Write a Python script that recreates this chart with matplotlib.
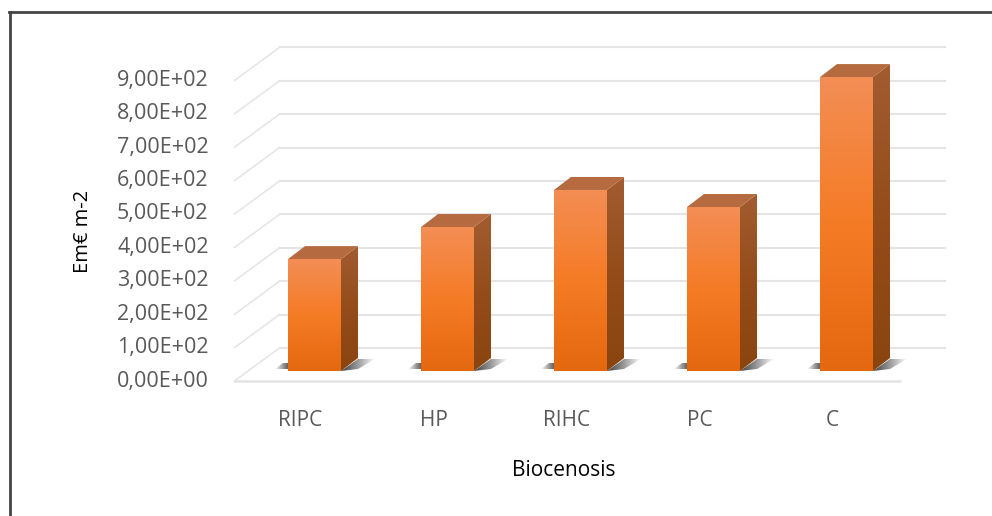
import numpy as np
import matplotlib
matplotlib.use('Agg')
import matplotlib.pyplot as plt
from matplotlib.colors import LinearSegmentedColormap
from matplotlib.patches import Polygon

categories = ['RIPC', 'HP', 'RIHC', 'PC', 'C']
values = [335, 431, 542, 491, 880]
tick_values = [0, 100, 200, 300, 400, 500, 600, 700, 800, 900]
tick_labels = ['0,00E+00', '1,00E+02', '2,00E+02', '3,00E+02', '4,00E+02',
               '5,00E+02', '6,00E+02', '7,00E+02', '8,00E+02', '9,00E+02']

plt.rcParams['font.family'] = ['Open Sans', 'DejaVu Sans']

W, H = 992, 516
# one axes over the whole figure: x in categories, y in value units, on the plane of the bar fronts
PX_CAT = 133.0
PX_VAL = 0.334
X0 = 314.5
Y0 = 371.0

fig = plt.figure(figsize=(W / 100, H / 100), dpi=100)
ax = fig.add_axes([0, 0, 1, 1])
ax.axis('off')
xlim = ((0 - X0) / PX_CAT, (W - X0) / PX_CAT)
ylim = ((Y0 - H) / PX_VAL, Y0 / PX_VAL)


def dx(px):
    return px / PX_CAT


def dy(px):
    # px measured upward
    return px / PX_VAL


# depth offsets of the floor front and the back wall from the bar plane
front_x, front_y = dx(-13.5), dy(-10)
back_x, back_y = dx(31.5), dy(23)
left = -0.5
right = 4.5
bar_w = 53 / PX_CAT
depth_x, depth_y = dx(17), dy(13)

# gridlines
grid = '#e4e4e4'
for v in tick_values:
    ax.plot([left + front_x, left + back_x], [v + front_y, v + back_y],
            color=grid, lw=1.1, zorder=1)
    ax.plot([left + back_x, right + back_x], [v + back_y, v + back_y],
            color=grid, lw=1.5, zorder=1)
ax.plot([left + front_x, right + front_x], [front_y, front_y], color=grid, lw=1.8, zorder=1)

front_cm = LinearSegmentedColormap.from_list('front', ['#E4680F', '#F57B25', '#F38E55'])
side_cm = LinearSegmentedColormap.from_list('side', ['#8A450F', '#944C1A', '#A25C30'])
shadow_cm = LinearSegmentedColormap.from_list('shadow', [(0, '#ffffff'), (0.5, '#9a9a9a'), (1, '#404040')])


def gradient_poly(pts, cmap, zorder, horizontal=None):
    poly = Polygon(pts, closed=True, fc='none', ec='none', zorder=zorder)
    ax.add_patch(poly)
    xs = [p[0] for p in pts]
    ys = [p[1] for p in pts]
    ext = [min(xs), max(xs), min(ys), max(ys)]
    if horizontal is None:
        img = np.linspace(0, 1, 256).reshape(-1, 1)
    else:
        img = np.linspace(0, 1, 256).reshape(1, -1)
        if horizontal < 0:
            img = img[:, ::-1]
    im = ax.imshow(img, cmap=cmap, extent=ext, origin='lower', aspect='auto',
                   zorder=zorder, interpolation='bilinear')
    im.set_clip_path(poly)


for i, (name, v) in enumerate(zip(categories, values)):
    x0 = i - bar_w / 2
    x1 = i + bar_w / 2
    # floor shadows either side of the bar
    gradient_poly([(x1, dy(0)), (x1 + dx(17), dy(12)), (x1 + dx(34), dy(12)), (x1 + dx(17), dy(2))],
                  shadow_cm, 2, horizontal=-1)
    gradient_poly([(x0 - dx(13), dy(2)), (x0 - dx(5), dy(8)), (x0 + dx(3), dy(8)), (x0 + dx(3), dy(2))],
                  shadow_cm, 2, horizontal=1)
    # side, top, front
    gradient_poly([(x1, 0), (x1 + depth_x, depth_y), (x1 + depth_x, v + depth_y), (x1, v)],
                  side_cm, 3)
    ax.add_patch(Polygon([(x0, v), (x0 + depth_x, v + depth_y), (x1 + depth_x, v + depth_y), (x1, v)],
                         closed=True, fc='#B56B3F', ec='none', zorder=3))
    gradient_poly([(x0, 0), (x0, v), (x1, v), (x1, 0)], front_cm, 4)
    ax.text(i + dx(-14), dy(-50), name, ha='center', va='center', fontsize=15, color='#595959')

for v, lab in zip(tick_values, tick_labels):
    ax.text(left + front_x - dx(26), v + front_y, lab, ha='right', va='center',
            fontsize=15.5, color='#595959')

ax.text(dx(564 - X0), dy(Y0 - 471), 'Biocenosis', ha='center', va='center', fontsize=15, color='black')
ax.text(dx(83 - X0), dy(Y0 - 231), 'Em€ m-2', rotation=90, ha='center', va='center',
        fontsize=14.5, color='black')

ax.set_xlim(xlim)
ax.set_ylim(ylim)

# chart frame: only the top and left edges are in the crop
fig.add_artist(plt.Line2D([10 / W, 10 / W], [0, 1 - 11.5 / H], color='#444444', lw=2))
fig.add_artist(plt.Line2D([9.3 / W, 1], [1 - 11.5 / H, 1 - 11.5 / H], color='#444444', lw=2))

fig.savefig('out.png', dpi=100)
